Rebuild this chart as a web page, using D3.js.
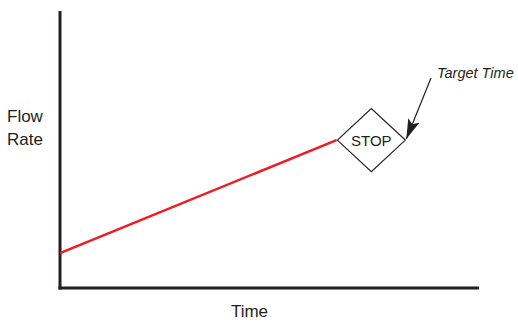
<!DOCTYPE html>
<html>
<head>
<meta charset="utf-8">
<script src="https://cdn.jsdelivr.net/npm/d3@7"></script>
<style>
  body { margin: 0; background: #fff; }
  text { font-family: "Liberation Sans Narrow", "Liberation Sans", Arial, sans-serif; fill: #231f20; }
</style>
</head>
<body>
<svg id="chart" width="518" height="322"></svg>
<script>
// flow rate rising over time until the stop point
var times = [0, 66];
var flows = [12.6, 53.4];
var stopTime = 74.3;
var stopFlow = 53.4;
var xLabel = "Time";
var yLabel = ["Flow", "Rate"];
var stopLabel = "STOP";
var noteLabel = "Target Time";

var svg = d3.select("#chart");
var x = d3.scaleLinear().domain([0, 100]).range([60, 479]);
var y = d3.scaleLinear().domain([0, 100]).range([288, 11]);

// axes (no ticks)
svg.append("line")
  .attr("x1", x(0)).attr("y1", y(0) + 1.5)
  .attr("x2", x(0)).attr("y2", y(100))
  .attr("stroke", "#231f20").attr("stroke-width", 3);
svg.append("line")
  .attr("x1", x(0) - 1.5).attr("y1", y(0))
  .attr("x2", x(100)).attr("y2", y(0))
  .attr("stroke", "#231f20").attr("stroke-width", 3);

// red flow line
var line = d3.line()
  .x(function(d, i) { return x(times[i]); })
  .y(function(d) { return y(d); });
svg.append("path")
  .datum(flows)
  .attr("d", line)
  .attr("fill", "none")
  .attr("stroke", "#ed1c24")
  .attr("stroke-width", 2.5);

// stop diamond
var cx = x(stopTime), cy = y(stopFlow);
var hw = 34, hh = 31.5;
svg.append("path")
  .attr("d", "M" + (cx - hw) + "," + cy + "L" + cx + "," + (cy - hh) + "L" + (cx + hw) + "," + cy + "L" + cx + "," + (cy + hh) + "Z")
  .attr("fill", "#fff")
  .attr("stroke", "#231f20")
  .attr("stroke-width", 1.2);
svg.append("text")
  .attr("x", cx).attr("y", cy + 5.5)
  .attr("text-anchor", "middle")
  .attr("font-size", 15)
  .text(stopLabel);

// arrow pointing to the diamond
svg.append("defs").append("marker")
  .attr("id", "head")
  .attr("viewBox", "0 0 20 12")
  .attr("refX", 20).attr("refY", 6)
  .attr("markerWidth", 20).attr("markerHeight", 12)
  .attr("markerUnits", "userSpaceOnUse")
  .attr("orient", "auto")
  .append("path")
  .attr("d", "M0,0L20,6L0,12L4,6Z")
  .attr("fill", "#231f20");
svg.append("line")
  .attr("x1", 431).attr("y1", 78)
  .attr("x2", cx + hw + 1).attr("y2", cy - 1)
  .attr("stroke", "#231f20").attr("stroke-width", 1.2)
  .attr("marker-end", "url(#head)");
svg.append("text")
  .attr("x", 437).attr("y", 78)
  .attr("font-size", 14.5)
  .attr("font-style", "italic")
  .text(noteLabel);

// axis labels
svg.append("text")
  .attr("x", (x(0) + x(100)) / 2 - 20).attr("y", 317)
  .attr("text-anchor", "middle")
  .attr("font-size", 17)
  .text(xLabel);
svg.selectAll(".ylab")
  .data(yLabel)
  .enter().append("text")
  .attr("class", "ylab")
  .attr("x", 7)
  .attr("y", function(d, i) { return 122 + i * 23; })
  .attr("font-size", 17)
  .text(function(d) { return d; });
</script>
</body>
</html>
